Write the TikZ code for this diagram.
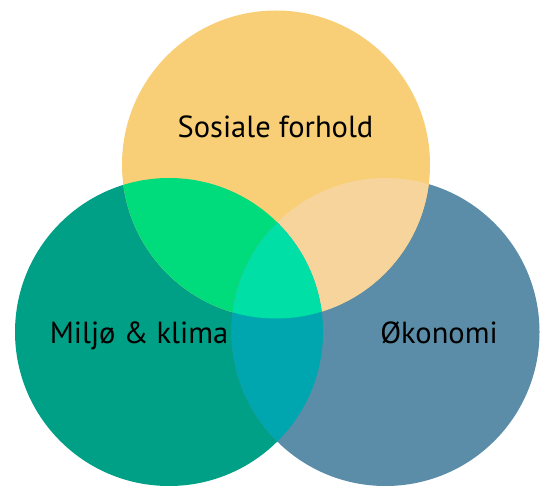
\documentclass[tikz,border=0pt]{standalone}
\usepackage{fontspec}
\setmainfont{PT Sans}
\definecolor{cyel}{HTML}{F8CF76}
\definecolor{cgreen}{HTML}{00A086}
\definecolor{cblue}{HTML}{5B8DA8}
\definecolor{cyg}{HTML}{00DB7C}
\definecolor{cyb}{HTML}{F7D49B}
\definecolor{cgb}{HTML}{00A6AF}
\definecolor{call}{HTML}{00DFA6}
\tikzset{lbl/.style={anchor=base, font=\fontsize{30.5}{36}\selectfont, text=black, inner sep=0pt}}
\begin{document}
\begin{tikzpicture}[x=1pt,y=-1pt]
\useasboundingbox (0,0) rectangle (540,486);
\clip (0,0) rectangle (540,486);
\coordinate (T) at (276,164.5);
\coordinate (L) at (169,332);
\coordinate (R) at (385.5,332);
\def\rad{154pt}
\fill[cgreen] (L) circle[radius=\rad];
\fill[cblue] (R) circle[radius=\rad];
\fill[cyel] (T) circle[radius=\rad];
\begin{scope}
  \clip (T) circle[radius=\rad];
  \fill[cyg] (L) circle[radius=\rad];
  \fill[cyb] (R) circle[radius=\rad];
\end{scope}
\begin{scope}
  \clip (L) circle[radius=\rad];
  \fill[cgb] (R) circle[radius=\rad];
  \clip (R) circle[radius=\rad];
  \fill[call] (T) circle[radius=\rad];
\end{scope}
\node[lbl] (tS) at (275.5,138) {Sosiale forhold};
\node[lbl] (tM) at (139,343) {Miljø \& klima};
\node[lbl] (tO) at (439,343) {Økonomi};
\end{tikzpicture}
\end{document}
